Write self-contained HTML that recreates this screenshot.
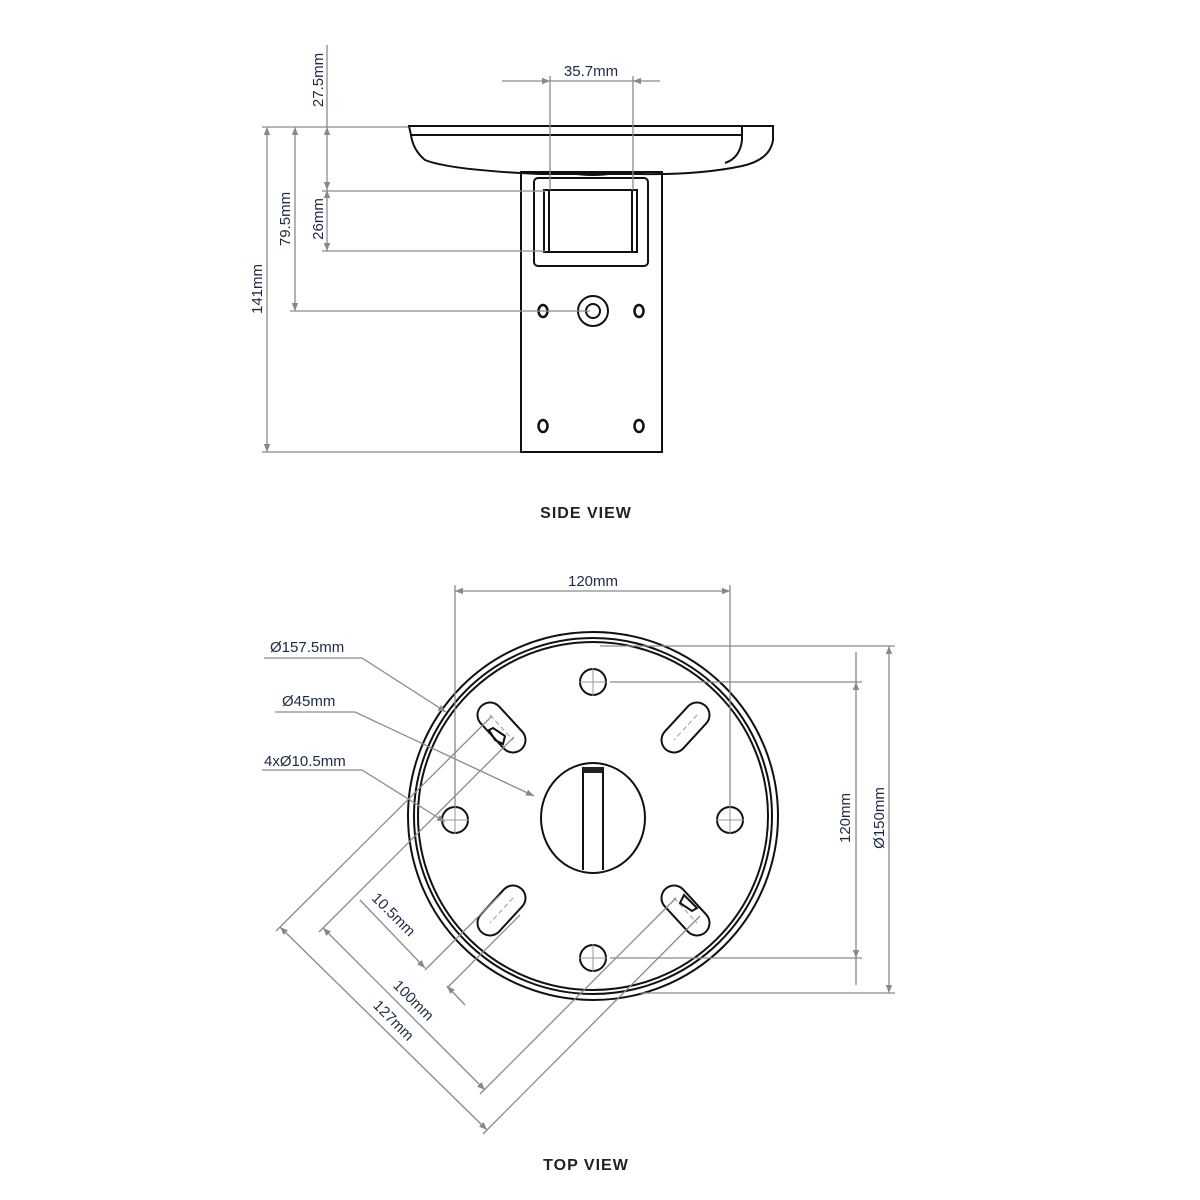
<!DOCTYPE html>
<html><head><meta charset="utf-8"><style>
html,body{margin:0;padding:0;background:#fff;}
svg{display:block}
.d{stroke:#8a8a8a;stroke-width:1.3;fill:none}
.k{stroke:#111;stroke-width:2;fill:none}
.t{font-family:"Liberation Sans",sans-serif;font-size:15px;fill:#1c2a44}
.h{font-family:"Liberation Sans",sans-serif;font-size:16px;font-weight:bold;fill:#222;letter-spacing:1px}
</style></head><body>
<svg width="1200" height="1200" viewBox="0 0 1200 1200" xmlns="http://www.w3.org/2000/svg">
<defs>
<marker id="a" viewBox="0 0 10 10" refX="10" refY="5" markerWidth="10" markerHeight="8" orient="auto-start-reverse" markerUnits="userSpaceOnUse"><path d="M0,1 L10,5 L0,9 z" fill="#888"/></marker>
</defs>

<!-- SIDE VIEW geometry -->
<path class="k" d="M409,126 L773,126 L773,140 Q770,160 742,166 Q700,175 640,174 L540,174 Q450,170 425,160 Q413,150 411,135 Z"/>
<line class="k" x1="410" y1="135" x2="742" y2="135" stroke-width="1.5"/>
<path class="k" d="M742,126 L742,140 Q740,158 725,163" stroke-width="1.5"/>
<path class="k" d="M570,173 Q593,177 615,173" stroke-width="3"/>
<rect class="k" x="521" y="172" width="141" height="280" stroke-width="1.8"/>
<rect class="k" x="534" y="178" width="114" height="88" rx="4"/>
<rect class="k" x="544" y="190" width="93" height="62"/>
<line class="k" x1="549" y1="190" x2="549" y2="252" stroke-width="1.2"/>
<line class="k" x1="632" y1="190" x2="632" y2="252" stroke-width="1.2"/>
<circle class="k" cx="593" cy="311" r="15"/>
<circle class="k" cx="593" cy="311" r="7" stroke-width="2.5"/>
<g stroke="#111" stroke-width="2.5" fill="none">
<ellipse cx="543" cy="311" rx="4.5" ry="6"/><ellipse cx="639" cy="311" rx="4.5" ry="6"/>
<ellipse cx="543" cy="426" rx="4.5" ry="6"/><ellipse cx="639" cy="426" rx="4.5" ry="6"/>
</g>

<!-- SIDE VIEW dims -->
<line class="d" x1="262" y1="127" x2="408" y2="127"/>
<line class="d" x1="262" y1="452" x2="520" y2="452"/>
<line class="d" x1="267" y1="127" x2="267" y2="452" marker-start="url(#a)" marker-end="url(#a)"/>
<line class="d" x1="290" y1="311" x2="590" y2="311"/>
<line class="d" x1="295" y1="127" x2="295" y2="311" marker-start="url(#a)" marker-end="url(#a)"/>
<line class="d" x1="327" y1="45" x2="327" y2="127"/>
<line class="d" x1="327" y1="127" x2="327" y2="190" marker-start="url(#a)" marker-end="url(#a)"/>
<line class="d" x1="327" y1="190" x2="327" y2="251" marker-start="url(#a)" marker-end="url(#a)"/>
<line class="d" x1="322" y1="191" x2="545" y2="191"/>
<line class="d" x1="322" y1="251" x2="545" y2="251"/>
<line class="d" x1="550" y1="76" x2="550" y2="190"/>
<line class="d" x1="633" y1="76" x2="633" y2="190"/>
<line class="d" x1="502" y1="81" x2="550" y2="81" marker-end="url(#a)"/>
<line class="d" x1="660" y1="81" x2="633" y2="81" marker-end="url(#a)"/>
<line class="d" x1="550" y1="81" x2="633" y2="81"/>
<text class="t" x="591" y="76" text-anchor="middle">35.7mm</text>
<text class="t" transform="translate(323,80) rotate(-90)" text-anchor="middle">27.5mm</text>
<text class="t" transform="translate(323,219) rotate(-90)" text-anchor="middle">26mm</text>
<text class="t" transform="translate(290,219) rotate(-90)" text-anchor="middle">79.5mm</text>
<text class="t" transform="translate(262,289) rotate(-90)" text-anchor="middle">141mm</text>
<text class="h" x="586" y="518" text-anchor="middle">SIDE VIEW</text>

<!-- TOP VIEW geometry -->
<ellipse class="k" cx="593" cy="816" rx="185" ry="184"/>
<ellipse class="k" cx="593" cy="816" rx="179" ry="178" stroke-width="1.5"/>
<ellipse class="k" cx="593" cy="816" rx="175" ry="174" stroke-width="1.5"/>
<ellipse class="k" cx="593" cy="818" rx="52" ry="55"/>
<path class="k" d="M583,767 L583,870 M603,767 L603,870" stroke-width="1.6"/>
<rect x="583" y="767" width="20" height="6" fill="#222"/>
<g class="k">
<circle cx="593" cy="682" r="13"/><circle cx="455" cy="820" r="13"/>
<circle cx="730" cy="820" r="13"/><circle cx="593" cy="958" r="13"/>
</g>
<g stroke="#999" stroke-width="1" fill="none">
<path d="M593,668v28M579,682h28 M455,806v28M441,820h28 M730,806v28M716,820h28 M593,944v28M579,958h28"/>
</g>
<g class="k">
<line x1="490" y1="715" x2="513" y2="740" stroke-width="27" stroke-linecap="round" stroke="#111"/>
<line x1="490" y1="715" x2="513" y2="740" stroke-width="23" stroke-linecap="round" stroke="#fff"/>
<line x1="697" y1="715" x2="674" y2="740" stroke-width="27" stroke-linecap="round" stroke="#111"/>
<line x1="697" y1="715" x2="674" y2="740" stroke-width="23" stroke-linecap="round" stroke="#fff"/>
<line x1="513" y1="898" x2="490" y2="923" stroke-width="27" stroke-linecap="round" stroke="#111"/>
<line x1="513" y1="898" x2="490" y2="923" stroke-width="23" stroke-linecap="round" stroke="#fff"/>
<line x1="674" y1="898" x2="697" y2="923" stroke-width="27" stroke-linecap="round" stroke="#111"/>
<line x1="674" y1="898" x2="697" y2="923" stroke-width="23" stroke-linecap="round" stroke="#fff"/>
</g>
<g stroke="#999" stroke-width="1" stroke-dasharray="5,3">
<line x1="490" y1="715" x2="513" y2="740"/><line x1="697" y1="715" x2="674" y2="740"/>
<line x1="513" y1="898" x2="490" y2="923"/><line x1="674" y1="898" x2="697" y2="923"/>
</g>
<path class="k" d="M489,730 L493,728 L505,736 L503,744 L495,740 Z" stroke-width="2"/>
<path class="k" d="M684,895 L680,903 L692,911 L697,908 Z" stroke-width="2"/>

<!-- TOP VIEW dims -->
<line class="d" x1="455" y1="585" x2="455" y2="806"/>
<line class="d" x1="730" y1="585" x2="730" y2="806"/>
<line class="d" x1="455" y1="591" x2="730" y2="591" marker-start="url(#a)" marker-end="url(#a)"/>
<text class="t" x="593" y="586" text-anchor="middle">120mm</text>
<line class="d" x1="610" y1="682" x2="862" y2="682"/>
<line class="d" x1="610" y1="958" x2="862" y2="958"/>
<line class="d" x1="856" y1="652" x2="856" y2="682"/>
<line class="d" x1="856" y1="682" x2="856" y2="958" marker-start="url(#a)" marker-end="url(#a)"/>
<line class="d" x1="856" y1="958" x2="856" y2="985"/>
<line class="d" x1="600" y1="646" x2="895" y2="646"/>
<line class="d" x1="640" y1="993" x2="895" y2="993"/>
<line class="d" x1="889" y1="646" x2="889" y2="993" marker-start="url(#a)" marker-end="url(#a)"/>
<text class="t" transform="translate(850,818) rotate(-90)" text-anchor="middle">120mm</text>
<text class="t" transform="translate(884,818) rotate(-90)" text-anchor="middle">Ø150mm</text>

<polyline class="d" points="264,658 362,658 446,712" marker-end="url(#a)"/>
<text class="t" x="270" y="652">Ø157.5mm</text>
<polyline class="d" points="275,712 355,712 534,796" marker-end="url(#a)"/>
<text class="t" x="282" y="706">Ø45mm</text>
<polyline class="d" points="262,770 362,770 445,822" marker-end="url(#a)"/>
<text class="t" x="264" y="766">4xØ10.5mm</text>

<!-- diagonal dims -->
<line class="d" x1="280" y1="927" x2="487" y2="1130" marker-start="url(#a)" marker-end="url(#a)"/>
<line class="d" x1="276" y1="931" x2="492" y2="716"/>
<line class="d" x1="483" y1="1134" x2="700" y2="916"/>
<line class="d" x1="323" y1="928" x2="485" y2="1090" marker-start="url(#a)" marker-end="url(#a)"/>
<line class="d" x1="319" y1="932" x2="514" y2="737"/>
<line class="d" x1="480" y1="1094" x2="676" y2="898"/>
<line class="d" x1="360" y1="900" x2="425" y2="968" marker-end="url(#a)"/>
<line class="d" x1="465" y1="1005" x2="447" y2="986" marker-end="url(#a)"/>
<line class="d" x1="425" y1="970" x2="500" y2="895"/>
<line class="d" x1="447" y1="988" x2="520" y2="915"/>
<text class="t" transform="translate(390,918) rotate(45)" text-anchor="middle">10.5mm</text>
<text class="t" transform="translate(410,1004) rotate(45)" text-anchor="middle">100mm</text>
<text class="t" transform="translate(390,1024) rotate(45)" text-anchor="middle">127mm</text>

<text class="h" x="586" y="1170" text-anchor="middle">TOP VIEW</text>
</svg>
</body></html>
